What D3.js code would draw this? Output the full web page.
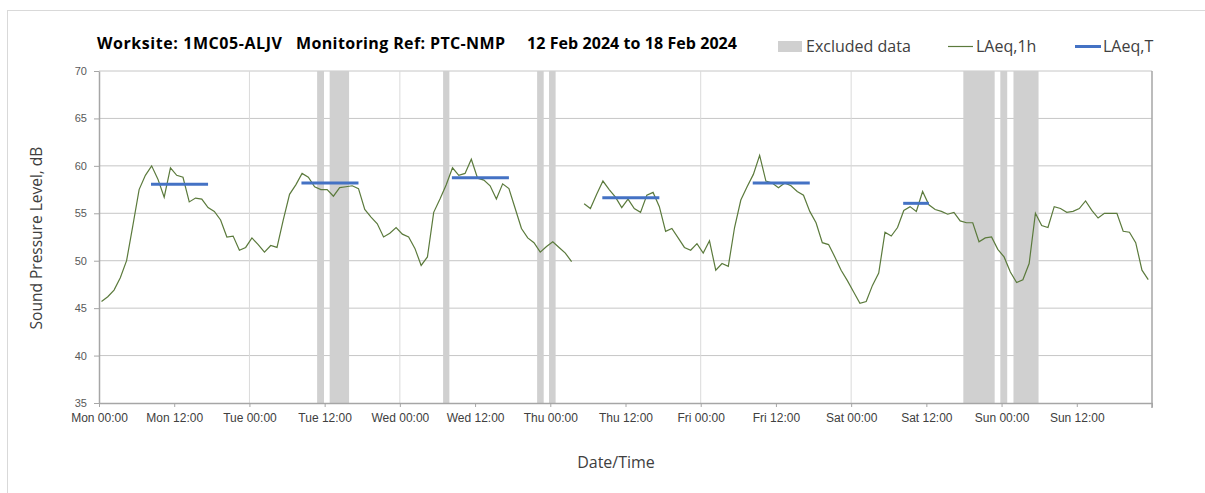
<!DOCTYPE html>
<html>
<head>
<meta charset="utf-8">
<script src="https://cdn.jsdelivr.net/npm/d3@7"></script>
<style>
  body { margin: 0; background: #fff; }
  svg { display: block; }
  .axis path, .axis line { stroke: #a6a6a6; }
</style>
</head>
<body>
<div id="chart"></div>
<script>
// hourly LAeq,1h readings, Mon 00:00 .. Sun 23:00 (null = no reading)
var laeq1h = [
  45.7, 46.2, 46.9, 48.2, 50.0, 53.7, 57.5, 59.0, 60.0, 58.6, 56.7, 59.8,
  59.0, 58.8, 56.2, 56.6, 56.5, 55.6, 55.2, 54.3, 52.5, 52.6, 51.1, 51.4,
  52.4, 51.7, 50.9, 51.6, 51.4, 54.3, 57.0, 58.0, 59.2, 58.8, 57.8, 57.5,
  57.5, 56.8, 57.7, 57.8, 57.9, 57.6, 55.4, 54.6, 53.9, 52.5, 52.9, 53.5,
  52.8, 52.5, 51.3, 49.5, 50.4, 55.1, 56.5, 58.0, 59.8, 59.0, 59.2, 60.7,
  58.7, 58.5, 57.9, 56.5, 58.1, 57.6, 55.5, 53.4, 52.4, 51.9, 50.9, 51.5,
  52.0, 51.4, 50.8, 49.9, null, 56.0, 55.5, 57.0, 58.4, 57.5, 56.7, 55.6,
  56.5, 55.5, 55.1, 56.9, 57.2, 55.7, 53.1, 53.4, 52.4, 51.4, 51.1, 51.8,
  50.8, 52.1, 49.0, 49.7, 49.4, 53.5, 56.4, 57.8, 59.1, 61.1, 58.4, 58.2,
  57.7, 58.2, 57.9, 57.3, 56.9, 55.2, 54.0, 51.9, 51.7, 50.4, 49.0, 47.9,
  46.7, 45.5, 45.7, 47.4, 48.7, 53.0, 52.6, 53.5, 55.3, 55.7, 55.2, 57.3,
  55.9, 55.4, 55.2, 54.9, 55.1, 54.2, 54.0, 54.0, 52.0, 52.4, 52.5, 51.2,
  50.4, 48.8, 47.7, 48.0, 49.7, 55.0, 53.7, 53.5, 55.7, 55.5, 55.1, 55.2,
  55.5, 56.3, 55.3, 54.5, 55.0, 55.0, 55.0, 53.1, 53.0, 51.9, 49.0, 48.0
]

// LAeq,T over daytime periods (hours from Mon 00:00)
var periodFrom  = [8, 32, 56, 80, 104, 128]
var periodTo    = [17, 41, 65, 89, 113, 132]
var periodLevel = [58.05, 58.2, 58.75, 56.65, 58.2, 56.05]

// excluded data windows (hours from Mon 00:00)
var excludedFrom = [34.8, 36.8, 54.9, 69.9, 71.8, 137.9, 143.8, 145.9]
var excludedTo   = [35.9, 39.9, 55.9, 70.95, 72.85, 142.9, 144.9, 149.9]

var tickHours  = d3.range(0, 169, 12)
var tickLabels = ["Mon 00:00", "Mon 12:00", "Tue 00:00", "Tue 12:00", "Wed 00:00", "Wed 12:00",
                  "Thu 00:00", "Thu 12:00", "Fri 00:00", "Fri 12:00", "Sat 00:00", "Sat 12:00",
                  "Sun 00:00", "Sun 12:00", ""]
var yTicks = [35, 40, 45, 50, 55, 60, 65, 70]

var titleParts = ["Worksite: 1MC05-ALJV", "Monitoring Ref: PTC-NMP", "12 Feb 2024 to 18 Feb 2024"]

var width = 1205
var height = 493
var offset = 0.4   // readings sit a little after the hour mark

var svg = d3.select("#chart")
  .append("svg")
    .attr("width", width)
    .attr("height", height)
    .style("font-family", "'Open Sans', sans-serif")

// outer frame
svg.append("rect")
  .attr("x", 7.5).attr("y", 10.5)
  .attr("width", 1210).attr("height", 500)
  .attr("fill", "none")
  .attr("stroke", "#d9d9d9")

var x = d3.scaleLinear().domain([0, 168]).range([99, 1152])
var y = d3.scaleLinear().domain([35, 70]).range([403, 71])

// gridlines
svg.append("g")
  .selectAll("line")
  .data(yTicks.slice(1))
  .enter().append("line")
    .attr("x1", x(0)).attr("x2", x(168))
    .attr("y1", d => y(d)).attr("y2", d => y(d))
    .attr("stroke", "#c6c6c6")

svg.append("g")
  .selectAll("line")
  .data(d3.range(24, 168, 24))
  .enter().append("line")
    .attr("x1", d => x(d)).attr("x2", d => x(d))
    .attr("y1", y(35)).attr("y2", y(70))
    .attr("stroke", "#dadada")

svg.append("line")
  .attr("x1", x(168)).attr("x2", x(168))
  .attr("y1", y(70)).attr("y2", y(35) + 5)
  .attr("stroke", "#a6a6a6")
  .attr("stroke-width", 1.5)

// excluded data bands
svg.append("g")
  .selectAll("rect")
  .data(excludedFrom)
  .enter().append("rect")
    .attr("x", d => x(d))
    .attr("width", (d, i) => x(excludedTo[i]) - x(d))
    .attr("y", y(70))
    .attr("height", y(35) - y(70))
    .attr("fill", "#d0d0d0")

// axes
var xAxis = svg.append("g")
  .attr("class", "axis")
  .attr("transform", "translate(0," + y(35) + ")")
  .call(d3.axisBottom(x)
          .tickValues(tickHours)
          .tickFormat((d, i) => tickLabels[i])
          .tickSize(4)
          .tickSizeOuter(0)
          .tickPadding(6))
xAxis.select(".domain").attr("stroke-width", 1.5)
xAxis.selectAll("text")
  .style("font-size", "12px")
  .style("fill", "#404040")

var yAxis = svg.append("g")
  .attr("class", "axis")
  .attr("transform", "translate(" + x(0) + ",0)")
  .call(d3.axisLeft(y)
          .tickValues(yTicks)
          .tickSize(5)
          .tickSizeOuter(0)
          .tickPadding(7))
yAxis.select(".domain").attr("stroke-width", 1.5)
yAxis.selectAll("text")
  .style("font-size", "11px")
  .style("fill", "#595959")

// LAeq,1h line
var line = d3.line()
  .defined(d => d != null)
  .x((d, i) => x(i + offset))
  .y(d => y(d))

svg.append("path")
  .datum(laeq1h)
  .attr("d", line)
  .attr("fill", "none")
  .attr("stroke", "#5b7a3c")
  .attr("stroke-width", 1.2)

// LAeq,T segments
svg.append("g")
  .selectAll("line")
  .data(periodLevel)
  .enter().append("line")
    .attr("x1", (d, i) => x(periodFrom[i] + offset - 0.1))
    .attr("x2", (d, i) => x(periodTo[i] + offset))
    .attr("y1", d => y(d))
    .attr("y2", d => y(d))
    .attr("stroke", "#4472c4")
    .attr("stroke-width", 3)

// title, three pieces stretched to the reference widths
var titleX = [97, 296, 527]
var titleW = [185, 209, 210]
svg.append("g")
  .style("font-weight", "bold")
  .style("font-size", "16px")
  .style("fill", "#000")
  .selectAll("text")
  .data(titleParts)
  .enter().append("text")
    .attr("x", (d, i) => titleX[i])
    .attr("y", 49)
    .attr("textLength", (d, i) => titleW[i])
    .attr("lengthAdjust", "spacing")
    .text(d => d)

// legend
var legend = svg.append("g")
  .style("font-size", "16px")
  .style("fill", "#404040")

legend.append("rect")
  .attr("x", 778).attr("y", 41)
  .attr("width", 24).attr("height", 11)
  .attr("fill", "#d0d0d0")
legend.append("text").attr("x", 806).attr("y", 52).text("Excluded data")

legend.append("line")
  .attr("x1", 948).attr("x2", 973).attr("y1", 46.5).attr("y2", 46.5)
  .attr("stroke", "#5b7a3c").attr("stroke-width", 1.2)
legend.append("text").attr("x", 976).attr("y", 52).text("LAeq,1h")

legend.append("line")
  .attr("x1", 1075).attr("x2", 1101).attr("y1", 46.5).attr("y2", 46.5)
  .attr("stroke", "#4472c4").attr("stroke-width", 3)
legend.append("text").attr("x", 1103).attr("y", 52).text("LAeq,T")

// axis titles
svg.append("text")
  .attr("transform", "translate(42,238) rotate(-90)")
  .attr("text-anchor", "middle")
  .style("font-size", "15.5px")
  .style("fill", "#404040")
  .text("Sound Pressure Level, dB")

svg.append("text")
  .attr("x", 616)
  .attr("y", 468)
  .attr("text-anchor", "middle")
  .style("font-size", "16px")
  .style("fill", "#404040")
  .text("Date/Time")
</script>
</body>
</html>
